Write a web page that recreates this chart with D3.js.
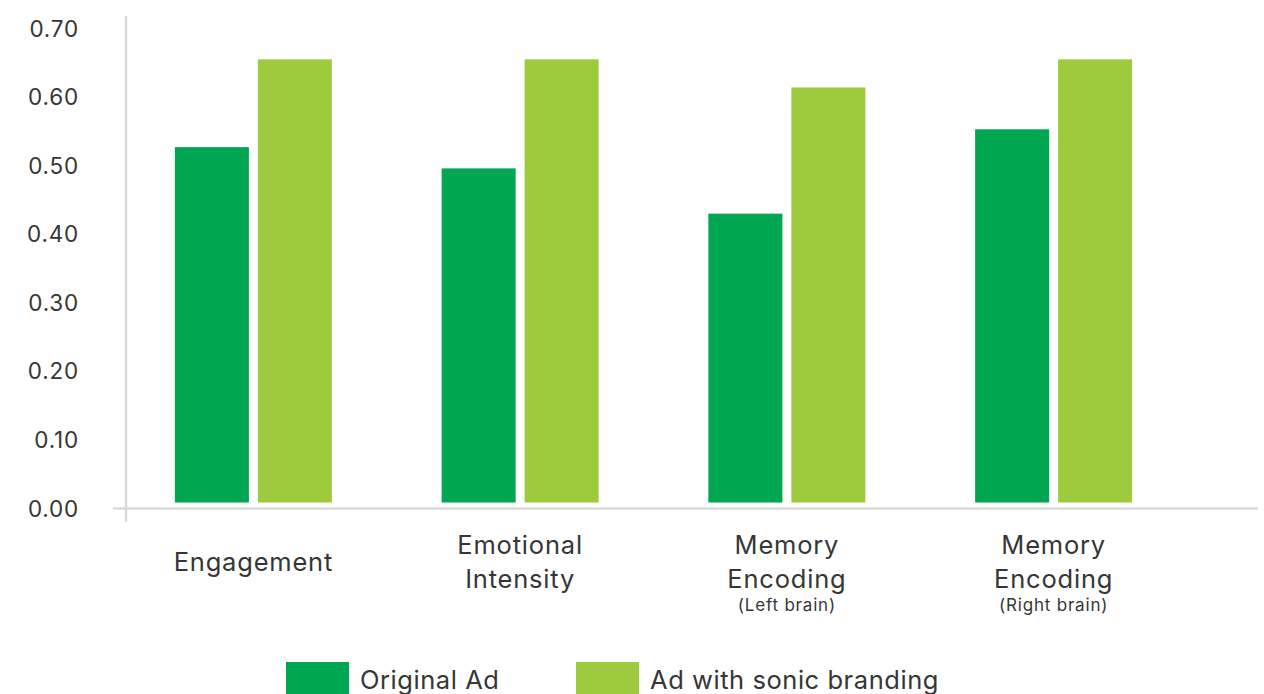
<!DOCTYPE html>
<html>
<head>
<meta charset="utf-8">
<script src="https://cdn.jsdelivr.net/npm/d3@7"></script>
<style>
  html, body { margin: 0; padding: 0; background: #fff; }
  svg { display: block; font-family: Inter, "Open Sans", sans-serif; }
</style>
</head>
<body>
<svg id="chart" width="1264" height="694"></svg>
<script>
// Metric categories: main label lines plus an optional small note underneath
const categories = ["Engagement", "Emotional Intensity", "Memory Encoding (Left brain)", "Memory Encoding (Right brain)"];
const categoryLines = [["Engagement"], ["Emotional", "Intensity"], ["Memory", "Encoding"], ["Memory", "Encoding"]];
const categoryNotes = ["", "", "(Left brain)", "(Right brain)"];

const seriesNames = ["Original Ad", "Ad with sonic branding"];
const originalAd = [0.527, 0.496, 0.430, 0.553];
const sonicBranding = [0.655, 0.655, 0.614, 0.655];

const yTicks = [0, 0.1, 0.2, 0.3, 0.4, 0.5, 0.6, 0.7];
const colors = ["#00a651", "#9ecb3d"];

const svg = d3.select("#chart");

const y = d3.scaleLinear().domain([0, 0.7]).range([508.5, 28.5]);

const x0 = d3.scaleBand()
  .domain(categories)
  .range([120, 1187])
  .paddingInner(0.4114)
  .paddingOuter(0.2057);

const x1 = d3.scaleBand()
  .domain(seriesNames)
  .range([0, x0.bandwidth()])
  .paddingInner(0.108);

const color = d3.scaleOrdinal().domain(seriesNames).range(colors);

const axisColor = "#d9d9d9";
const textColor = "#363636";

// Axis lines
svg.append("line")
  .attr("x1", 126).attr("x2", 126)
  .attr("y1", 16).attr("y2", 522)
  .attr("stroke", axisColor).attr("stroke-width", 2.5);

svg.append("line")
  .attr("x1", 113).attr("x2", 1258)
  .attr("y1", y(0)).attr("y2", y(0))
  .attr("stroke", axisColor).attr("stroke-width", 2.5);

// Y tick labels
svg.append("g").selectAll("text")
  .data(yTicks)
  .join("text")
  .attr("x", 79)
  .attr("y", d => y(d))
  .attr("dy", "0.36em")
  .attr("text-anchor", "end")
  .attr("fill", textColor)
  .attr("font-size", 22.5)
  .attr("letter-spacing", 0.8)
  .text(d3.format(".2f"));

// Bars (drawn with a small lift above the baseline)
const baseGap = 6;
const rows = categories.map((c, i) => ({
  category: c,
  values: [
    { series: seriesNames[0], value: originalAd[i] },
    { series: seriesNames[1], value: sonicBranding[i] }
  ]
}));

const groups = svg.append("g").selectAll("g")
  .data(rows)
  .join("g")
  .attr("transform", d => `translate(${x0(d.category)},0)`);

groups.selectAll("rect")
  .data(d => d.values)
  .join("rect")
  .attr("x", d => x1(d.series))
  .attr("width", x1.bandwidth())
  .attr("y", d => y(d.value))
  .attr("height", d => y(0) - baseGap - y(d.value))
  .attr("fill", d => color(d.series));

// Category labels
const labels = svg.append("g").selectAll("g")
  .data(categories)
  .join("g")
  .attr("transform", c => `translate(${x0(c) + x0.bandwidth() / 2},0)`);

labels.each(function (c, i) {
  const g = d3.select(this);
  const lines = categoryLines[i];
  const lineH = 34;
  const startY = 571 - (lines.length - 1) * lineH / 2;
  lines.forEach((t, k) => {
    g.append("text")
      .attr("y", startY + k * lineH)
      .attr("text-anchor", "middle")
      .attr("fill", textColor)
      .attr("font-size", 25.5)
      .attr("letter-spacing", 0.8)
      .text(t);
  });
  if (categoryNotes[i]) {
    g.append("text")
      .attr("y", 611)
      .attr("text-anchor", "middle")
      .attr("fill", textColor)
      .attr("font-size", 17)
      .attr("letter-spacing", 0.8)
      .text(categoryNotes[i]);
  }
});

// Legend
const legendX = [286, 576];
const legend = svg.append("g").selectAll("g")
  .data(seriesNames)
  .join("g")
  .attr("transform", (d, i) => `translate(${legendX[i]},662)`);

legend.append("rect")
  .attr("width", 63)
  .attr("height", 34)
  .attr("fill", d => color(d));

legend.append("text")
  .attr("x", 74)
  .attr("y", 27)
  .attr("fill", textColor)
  .attr("font-size", 25.5)
  .attr("letter-spacing", 0.55)
  .text(d => d);
</script>
</body>
</html>
